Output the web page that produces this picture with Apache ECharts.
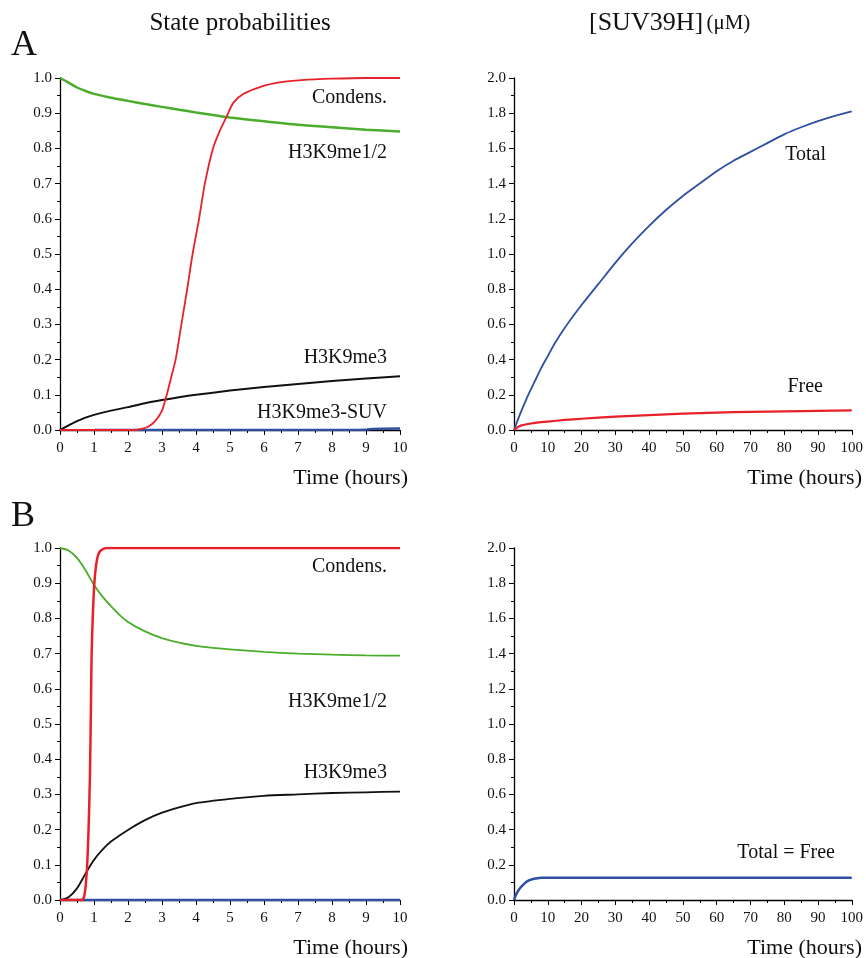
<!DOCTYPE html>
<html><head><meta charset="utf-8">
<script src="https://cdn.jsdelivr.net/npm/echarts@6/dist/echarts.min.js"></script>
<style>html,body{margin:0;padding:0;background:#fff}#c{width:866px;height:958px}</style>
</head><body><div id="c"></div>
<script>
// ---- Data ----
// Panel A, state probabilities
var tA_green = [0,0.25,0.5,0.75,1,1.5,2,2.5,3,3.5,4,4.5,5,6,7,8,9,10];
var vA_green = [1.0,0.987,0.973,0.963,0.955,0.944,0.935,0.926,0.918,0.910,0.902,0.895,0.888,0.877,0.867,0.860,0.853,0.848];
var tA_red = [0,2.2,2.4,2.6,2.8,3.0,3.14,3.27,3.4,3.57,3.74,3.9,4.09,4.26,4.5,4.7,4.9,5.1,5.4,5.9,6.5,7.1,8,9,10];
var vA_red = [0,0,0.003,0.01,0.025,0.055,0.1,0.15,0.2,0.3,0.4,0.5,0.6,0.7,0.8,0.85,0.89,0.93,0.955,0.975,0.988,0.994,0.998,1.0,1.0];
var tA_black = [0,0.25,0.5,0.75,1,1.5,2,2.5,3,3.5,4,5,6,7,8,9,10];
var vA_black = [0,0.013,0.025,0.035,0.043,0.055,0.065,0.076,0.085,0.093,0.100,0.112,0.122,0.131,0.139,0.146,0.153];
var tA_blue = [1,2,3,4,5,6,7,8,9,9.2,10];
var vA_blue = [0,0,0,0,0,0,0,0,0.001,0.003,0.004];
// Panel A, [SUV39H]
var tA_total = [0,2,4,6,8,10,12,15,20,25,30,35,40,45,50,55,60,65,70,75,80,85,90,95,100];
var vA_total = [0,0.1,0.19,0.27,0.35,0.42,0.49,0.58,0.71,0.83,0.95,1.06,1.16,1.25,1.33,1.40,1.47,1.53,1.58,1.63,1.68,1.72,1.755,1.785,1.81];
var tA_free = [0,1,2,5,10,15,20,30,40,50,60,70,80,90,100];
var vA_free = [0,0.015,0.025,0.037,0.048,0.057,0.064,0.076,0.085,0.093,0.099,0.103,0.106,0.109,0.111];
// Panel B, state probabilities
var tB_green = [0,0.25,0.5,0.75,1,1.25,1.5,1.75,2,2.5,3,3.5,4,4.5,5,6,7,8,9,10];
var vB_green = [1.0,0.993,0.972,0.937,0.895,0.862,0.835,0.81,0.79,0.763,0.744,0.731,0.722,0.716,0.712,0.705,0.700,0.697,0.695,0.694];
var tB_red = [0,0.6,0.68,0.72,0.76,0.8,0.84,0.88,0.91,0.93,0.97,1.01,1.06,1.12,1.2,1.37,10];
var vB_red = [0,0,0.003,0.015,0.045,0.1,0.2,0.35,0.55,0.7,0.82,0.9,0.95,0.98,0.993,1.0,1.0];
var tB_black = [0,0.25,0.5,0.75,1,1.25,1.5,2,2.5,3,3.5,4,5,6,7,8,9,10];
var vB_black = [0,0.008,0.033,0.075,0.114,0.143,0.166,0.199,0.227,0.248,0.263,0.275,0.287,0.296,0.300,0.304,0.306,0.308];
var tB_blue = [0,10];
var vB_blue = [0,0];
// Panel B, [SUV39H]
var tB_totalFree = [0,0.5,1,2,3,4,5,6,7,8,10,20,100];
var vB_totalFree = [0,0.025,0.045,0.072,0.092,0.107,0.116,0.121,0.124,0.126,0.127,0.127,0.127];

var xTicksLeft = {min:0, max:10, interval:1};
var xTicksRight = {min:0, max:100, interval:10};
var yTicksLeft = {min:0, max:1, interval:0.1};
var yTicksRight = {min:0, max:2, interval:0.2};

// ---- Styles ----
var FONT = '"Liberation Serif","DejaVu Serif",serif';
var RED = '#e8202a', GREEN = '#4aad2c', BLUE = '#2f4fa2', BLACK = '#111';

function pairs(t, v){ return t.map(function(x,i){return [x, v[i]];}); }

function xAxis(idx, tk){
  return {gridIndex: idx, type:'value', min: tk.min, max: tk.max, interval: tk.interval,
    axisLine:{show:true, onZero:false, lineStyle:{color:'#000', width:1.3}},
    axisTick:{show:true, length:5, lineStyle:{color:'#000', width:1}},
    minorTick:{show:true, splitNumber:2, length:3, lineStyle:{color:'#000', width:1}},
    splitLine:{show:false},
    axisLabel:{color:'#111', fontFamily:FONT, fontSize:15, margin:11}};
}
function yAxis(idx, tk){
  return {gridIndex: idx, type:'value', min: tk.min, max: tk.max, interval: tk.interval,
    axisLine:{show:true, lineStyle:{color:'#000', width:1.3}},
    axisTick:{show:true, length:5, lineStyle:{color:'#000', width:1}},
    minorTick:{show:true, splitNumber:2, length:3, lineStyle:{color:'#000', width:1}},
    splitLine:{show:false},
    axisLabel:{color:'#111', fontFamily:FONT, fontSize:15, margin:8,
      formatter:function(v){return v.toFixed(1);}}};
}
function line(idx, t, v, color, width){
  return {type:'line', xAxisIndex: idx, yAxisIndex: idx, data: pairs(t, v),
    showSymbol:false, symbol:'none', smooth:0.25, animation:false, silent:true,
    lineStyle:{color:color, width: width}};
}
function txt(x, y, s, size, align){
  return {type:'text', x:x, y:y, style:{text:s, fontFamily:FONT, fontSize:size, fill:'#111',
    align: align || 'right', verticalAlign:'middle'}};
}

var chart = echarts.init(document.getElementById('c'), null, {renderer:'canvas'});
chart.setOption({
  backgroundColor:'#fff',
  animation:false,
  grid:[
    {left:60, top:78, width:340, height:352},
    {left:514, top:78, width:341, height:352},
    {left:60, top:548, width:340, height:352},
    {left:514, top:548, width:341, height:352}
  ],
  xAxis:[xAxis(0,xTicksLeft), xAxis(1,xTicksRight), xAxis(2,xTicksLeft), xAxis(3,xTicksRight)],
  yAxis:[yAxis(0,yTicksLeft), yAxis(1,yTicksRight), yAxis(2,yTicksLeft), yAxis(3,yTicksRight)],
  series:[
    line(0, tA_blue, vA_blue, BLUE, 2.5),
    line(0, tA_green, vA_green, GREEN, 2.5),
    line(0, tA_black, vA_black, BLACK, 2),
    line(0, tA_red, vA_red, RED, 1.8),
    line(1, tA_total, vA_total, BLUE, 1.8),
    line(1, tA_free, vA_free, RED, 2.2),
    line(2, tB_blue, vB_blue, BLUE, 2.5),
    line(2, tB_green, vB_green, GREEN, 1.8),
    line(2, tB_black, vB_black, BLACK, 1.8),
    line(2, tB_red, vB_red, RED, 2.5),
    line(3, tB_totalFree, vB_totalFree, BLUE, 2.5)
  ],
  graphic:[
    txt(240, 23, 'State probabilities', 25, 'center'),
    {type:'text', x:589, y:23, style:{text:'{a|[SUV39H]} {b|(\u03bcM)}', align:'left', verticalAlign:'middle',
      rich:{a:{fontFamily:FONT, fontSize:26, fill:'#111'}, b:{fontFamily:FONT, fontSize:21, fill:'#111'}}}},
    txt(11, 46, 'A', 36, 'left'),
    txt(11, 517, 'B', 36, 'left'),
    txt(387, 98, 'Condens.', 20),
    txt(387, 153, 'H3K9me1/2', 20),
    txt(387, 358, 'H3K9me3', 20),
    txt(387, 413, 'H3K9me3-SUV', 20),
    txt(826, 155, 'Total', 20),
    txt(823, 387, 'Free', 20),
    txt(408, 478, 'Time (hours)', 22),
    txt(862, 478, 'Time (hours)', 22),
    txt(387, 567, 'Condens.', 20),
    txt(387, 702, 'H3K9me1/2', 20),
    txt(387, 773, 'H3K9me3', 20),
    txt(835, 853, 'Total = Free', 20),
    txt(408, 948, 'Time (hours)', 22),
    txt(862, 948, 'Time (hours)', 22)
  ]
});
</script></body></html>
